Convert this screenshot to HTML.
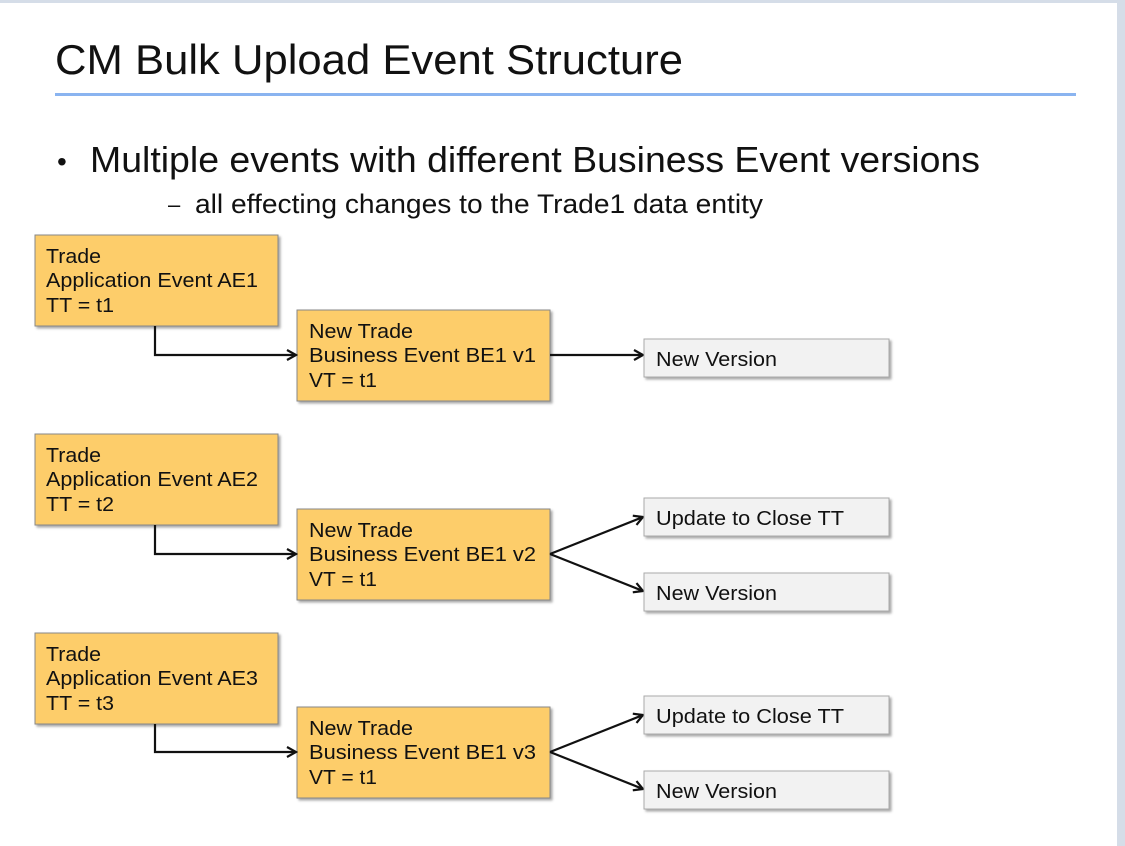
<!DOCTYPE html>
<html><head><meta charset="utf-8"><style>
html,body{margin:0;padding:0;background:#fff;}
svg{display:block;}
text{font-family:"Liberation Sans",sans-serif;fill:#111;}
</style></head><body>
<svg width="1125" height="846" viewBox="0 0 1125 846" xmlns="http://www.w3.org/2000/svg">
<defs>
<marker id="a" markerWidth="12" markerHeight="12" refX="10" refY="6" orient="auto" markerUnits="userSpaceOnUse">
<path d="M1,1 L10,6 L1,11" fill="none" stroke="#111" stroke-width="2.2"/>
</marker>
<filter id="s" x="-5%" y="-5%" width="115%" height="125%"><feDropShadow dx="2" dy="2" stdDeviation="1.2" flood-color="#000" flood-opacity="0.35"/></filter>
</defs>
<rect x="0" y="0" width="1125" height="846" fill="#fff"/>
<rect x="0" y="0" width="1125" height="3" fill="#d5dde8"/>
<rect x="1117" y="0" width="8" height="846" fill="#d5dde8"/>
<text x="55" y="74" font-size="42" textLength="628" lengthAdjust="spacingAndGlyphs">CM Bulk Upload Event Structure</text>
<rect x="55" y="93" width="1021" height="3" fill="#8ab4f0"/>
<text x="57" y="171" font-size="28">•</text>
<text x="90" y="172" font-size="36" textLength="890" lengthAdjust="spacingAndGlyphs">Multiple events with different Business Event versions</text>
<text x="168" y="212" font-size="22">–</text>
<text x="195" y="213" font-size="27" textLength="568" lengthAdjust="spacingAndGlyphs">all effecting changes to the Trade1 data entity</text>

<rect x="35" y="235" width="243" height="91" fill="#fdcd6b" stroke="#888" stroke-width="1" filter="url(#s)"/>
<text x="46" y="263" font-size="20" textLength="55" lengthAdjust="spacingAndGlyphs">Trade</text>
<text x="46" y="287" font-size="20" textLength="212" lengthAdjust="spacingAndGlyphs">Application Event AE1</text>
<text x="46" y="312" font-size="20" textLength="68" lengthAdjust="spacingAndGlyphs">TT = t1</text>
<rect x="297" y="310" width="253" height="91" fill="#fdcd6b" stroke="#888" stroke-width="1" filter="url(#s)"/>
<text x="309" y="338" font-size="20" textLength="104" lengthAdjust="spacingAndGlyphs">New Trade</text>
<text x="309" y="362" font-size="20" textLength="227" lengthAdjust="spacingAndGlyphs">Business Event BE1 v1</text>
<text x="309" y="387" font-size="20" textLength="68" lengthAdjust="spacingAndGlyphs">VT = t1</text>
<path d="M155,326 V355 H296" fill="none" stroke="#111" stroke-width="2.2" marker-end="url(#a)"/>
<path d="M550,355 H643" fill="none" stroke="#111" stroke-width="2.2" marker-end="url(#a)"/>
<rect x="644" y="339" width="245" height="38" fill="#f2f2f2" stroke="#aaa" filter="url(#s)"/>
<text x="656" y="366" font-size="20" textLength="121" lengthAdjust="spacingAndGlyphs">New Version</text>

<rect x="35" y="434" width="243" height="91" fill="#fdcd6b" stroke="#888" filter="url(#s)"/>
<text x="46" y="462" font-size="20" textLength="55" lengthAdjust="spacingAndGlyphs">Trade</text>
<text x="46" y="486" font-size="20" textLength="212" lengthAdjust="spacingAndGlyphs">Application Event AE2</text>
<text x="46" y="511" font-size="20" textLength="68" lengthAdjust="spacingAndGlyphs">TT = t2</text>
<rect x="297" y="509" width="253" height="91" fill="#fdcd6b" stroke="#888" filter="url(#s)"/>
<text x="309" y="537" font-size="20" textLength="104" lengthAdjust="spacingAndGlyphs">New Trade</text>
<text x="309" y="561" font-size="20" textLength="227" lengthAdjust="spacingAndGlyphs">Business Event BE1 v2</text>
<text x="309" y="586" font-size="20" textLength="68" lengthAdjust="spacingAndGlyphs">VT = t1</text>
<path d="M155,525 V554 H296" fill="none" stroke="#111" stroke-width="2.2" marker-end="url(#a)"/>
<path d="M550,554 L643,517" fill="none" stroke="#111" stroke-width="2.2" marker-end="url(#a)"/>
<path d="M550,554 L643,591" fill="none" stroke="#111" stroke-width="2.2" marker-end="url(#a)"/>
<rect x="644" y="498" width="245" height="38" fill="#f2f2f2" stroke="#aaa" filter="url(#s)"/>
<text x="656" y="525" font-size="20" textLength="188" lengthAdjust="spacingAndGlyphs">Update to Close TT</text>
<rect x="644" y="573" width="245" height="38" fill="#f2f2f2" stroke="#aaa" filter="url(#s)"/>
<text x="656" y="600" font-size="20" textLength="121" lengthAdjust="spacingAndGlyphs">New Version</text>

<rect x="35" y="633" width="243" height="91" fill="#fdcd6b" stroke="#888" filter="url(#s)"/>
<text x="46" y="661" font-size="20" textLength="55" lengthAdjust="spacingAndGlyphs">Trade</text>
<text x="46" y="685" font-size="20" textLength="212" lengthAdjust="spacingAndGlyphs">Application Event AE3</text>
<text x="46" y="710" font-size="20" textLength="68" lengthAdjust="spacingAndGlyphs">TT = t3</text>
<rect x="297" y="707" width="253" height="91" fill="#fdcd6b" stroke="#888" filter="url(#s)"/>
<text x="309" y="735" font-size="20" textLength="104" lengthAdjust="spacingAndGlyphs">New Trade</text>
<text x="309" y="759" font-size="20" textLength="227" lengthAdjust="spacingAndGlyphs">Business Event BE1 v3</text>
<text x="309" y="784" font-size="20" textLength="68" lengthAdjust="spacingAndGlyphs">VT = t1</text>
<path d="M155,724 V752 H296" fill="none" stroke="#111" stroke-width="2.2" marker-end="url(#a)"/>
<path d="M550,752 L643,715" fill="none" stroke="#111" stroke-width="2.2" marker-end="url(#a)"/>
<path d="M550,752 L643,789" fill="none" stroke="#111" stroke-width="2.2" marker-end="url(#a)"/>
<rect x="644" y="696" width="245" height="38" fill="#f2f2f2" stroke="#aaa" filter="url(#s)"/>
<text x="656" y="723" font-size="20" textLength="188" lengthAdjust="spacingAndGlyphs">Update to Close TT</text>
<rect x="644" y="771" width="245" height="38" fill="#f2f2f2" stroke="#aaa" filter="url(#s)"/>
<text x="656" y="798" font-size="20" textLength="121" lengthAdjust="spacingAndGlyphs">New Version</text>
</svg>
</body></html>
